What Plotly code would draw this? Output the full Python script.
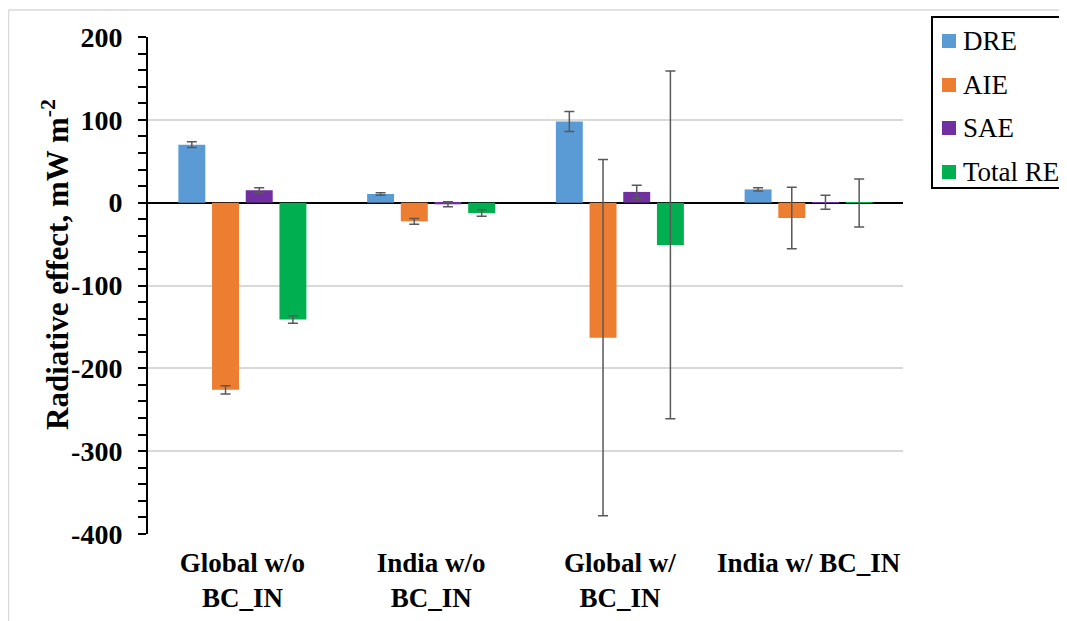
import plotly.graph_objects as go

categories = ["Global w/o<br>BC_IN", "India w/o<br>BC_IN", "Global w/<br>BC_IN", "India w/ BC_IN"]
series_names = ["DRE", "AIE", "SAE", "Total RE"]
dre = [70, 10.5, 98, 16]
aie = [-226, -22.5, -163, -18.5]
sae = [15, -2, 13, 0.5]
total = [-141, -12.5, -51, -0.3]
dre_err = [3.5, 1.5, 12, 2]
aie_err = [5, 3.5, 215, 37]
sae_err = [3, 3, 8, 8.5]
total_err = [4.5, 4, 210, 29]
colors = ["#5B9BD5", "#ED7D31", "#7030A0", "#00B050"]
y_tickvals = [200, 100, 0, -100, -200, -300, -400]
y_ticktext = ["200", "100", "0", "-100", "-200", "-300", "-400"]
y_title = "<b>Radiative effect, mW m<sup>-2</sup></b>"

values = [dre, aie, sae, total]
errors = [dre_err, aie_err, sae_err, total_err]

FONT = "Liberation Serif, Times New Roman, serif"

fig = go.Figure()
for i, name in enumerate(series_names):
    fig.add_trace(go.Bar(
        x=categories, y=values[i], name=name,
        marker=dict(color=colors[i], line=dict(width=0)),
        error_y=dict(type="data", array=errors[i], visible=True,
                     color="#595959", thickness=1.5, width=5),
        showlegend=False,
    ))

FW, FH = 1059, 613          # figure size (page has an 8px body margin)
L, T, Rx, By = 140, 29, 895, 526   # plot area in figure pixels
W, H = Rx - L, By - T


def px(x):
    return (x - L) / W


def py(y):
    return (By - y) / H


fig.update_layout(
    width=FW, height=FH,
    margin=dict(l=L, r=FW - Rx, t=T, b=FH - By, autoexpand=False),
    paper_bgcolor="white", plot_bgcolor="white",
    barmode="group", bargap=0.286, bargroupgap=0.2,
    font=dict(family=FONT, color="black"),
    showlegend=False,
)
fig.update_xaxes(showline=False, ticks="", showgrid=False, ticklabelstandoff=10,
                 tickfont=dict(family=FONT, size=27, color="black", weight="bold"))
fig.update_yaxes(range=[-400, 200], tickmode="array", tickvals=y_tickvals, ticktext=y_ticktext,
                 showline=True, linecolor="black", linewidth=2,
                 ticks="outside", ticklen=8, tickwidth=2, tickcolor="black",
                 minor=dict(dtick=20, tick0=0, ticks="outside", ticklen=8, tickwidth=2,
                            tickcolor="black", showgrid=False),
                 showgrid=True, gridcolor="#D9D9D9", gridwidth=1.5,
                 zeroline=True, zerolinecolor="black", zerolinewidth=2,
                 ticklabelstandoff=10,
                 tickfont=dict(family=FONT, size=28, color="black", weight="bold"))

# y-axis title
fig.add_annotation(xref="paper", yref="paper", x=px(47), y=py(257),
                   xanchor="center", yanchor="middle", showarrow=False, textangle=-90,
                   text=y_title, font=dict(family=FONT, size=31, color="black"))

# outer light frame (top and left edges)
fig.add_shape(type="line", xref="paper", yref="paper",
              x0=px(0.5), x1=px(FW), y0=py(2), y1=py(2),
              line=dict(color="#D9D9D9", width=1.5))
fig.add_shape(type="line", xref="paper", yref="paper",
              x0=px(0.5), x1=px(0.5), y0=py(2), y1=py(FH),
              line=dict(color="#D9D9D9", width=1.5))

# legend box
lx0, ly0, lx1, ly1 = 924, 9, 1055, 180
fig.add_shape(type="rect", xref="paper", yref="paper",
              x0=px(lx0), x1=px(lx1), y0=py(ly0), y1=py(ly1),
              line=dict(color="black", width=2), fillcolor="white")
item_y = [33, 77, 120, 164]
for i, name in enumerate(series_names):
    yc = item_y[i]
    fig.add_shape(type="rect", xref="paper", yref="paper",
                  x0=px(934), x1=px(948), y0=py(yc - 7), y1=py(yc + 7),
                  line=dict(width=0), fillcolor=colors[i])
    fig.add_annotation(xref="paper", yref="paper", x=px(953), y=py(yc),
                       xanchor="left", yanchor="middle", showarrow=False,
                       text=name, font=dict(family=FONT, size=27, color="black"))

fig.write_html("out.html")
